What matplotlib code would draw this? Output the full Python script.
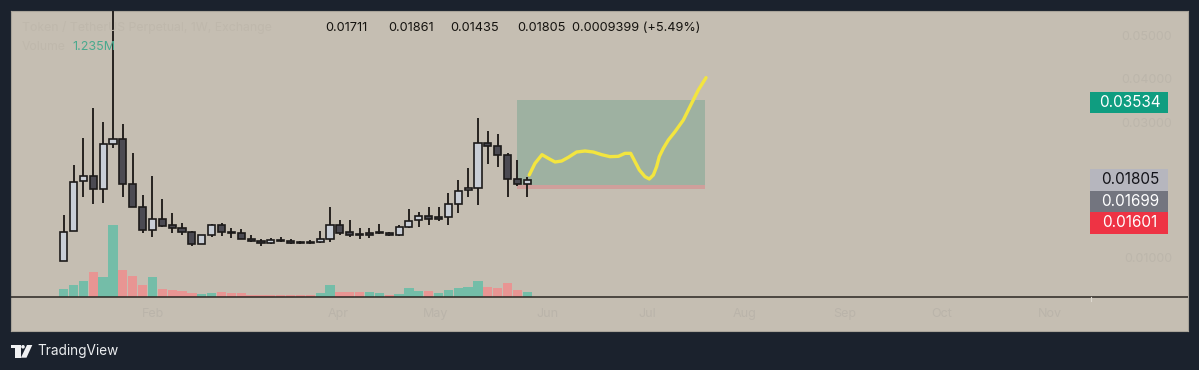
import matplotlib
matplotlib.use("Agg")
import matplotlib.pyplot as plt
from matplotlib.patches import Rectangle, Polygon, Ellipse

plt.rcParams['font.family'] = ['Inter', 'Liberation Sans', 'DejaVu Sans']

# Candles, in units of 1e-5 price
opens = [43,681,1769,1885,1595,2588,2690,1711,1211,703,942,812,747,667,406,594,812,667,638,515,471,420,493,
         464,442,442,442,515,812,660,624,638,660,645,594,776,921,1008,993,986,1269,1573,1617,2595,2538,2342,1827,1711]
highs = [1037,2124,2719,3357,3067,5495,3016,2378,1472,1885,1377,1073,855,689,602,834,870,747,725,602,515,544,551,
         507,478,493,689,1218,928,928,747,761,841,674,819,1167,1109,1218,1218,1523,1798,2052,3154,2871,2798,2378,2226,1861]
lows = [43,681,1421,1276,1290,2487,1421,1211,652,565,768,652,602,370,399,551,587,544,508,457,370,406,442,
        399,413,413,435,442,602,565,508,544,624,580,587,761,783,819,913,827,1073,1435,1247,2146,2088,1435,1668,1435]
closes = [674,1762,1885,1595,2588,2690,1711,1211,703,942,805,747,674,406,594,812,667,645,515,478,420,493,471,
          428,428,420,507,812,652,602,602,609,638,594,768,913,1008,957,950,1269,1566,1617,2595,2545,2342,1827,1711,1805]
volumes = [2.09,3.33,4.47,6.94,5.51,20.33,7.70,5.89,3.42,5.51,2.09,1.90,1.52,1.05,0.86,1.05,1.33,1.05,1.05,0.57,0.57,0.57,0.57,
           0.48,0.38,0.38,0.95,3.33,1.33,1.33,1.24,1.24,0.95,0.57,0.86,2.47,1.52,1.52,1.05,1.81,2.57,2.66,4.37,2.85,2.47,3.90,1.90,1.24]
volume_up = [1,1,1,0,1,1,0,0,0,1,0,0,0,0,1,1,0,0,0,0,0,0,0,
             0,0,0,1,1,0,0,0,1,1,0,1,1,1,0,1,1,1,1,1,0,0,0,0,1]

# Forecast line drawn over the position
path_x = [47.2,47.78,48.49,49.13,49.81,50.48,51.16,52.0,52.85,53.69,54.54,55.38,56.23,56.9,57.48,57.92,58.36,58.93,
          59.37,59.78,60.11,60.38,60.79,61.3,61.97,62.82,63.66,64.34,65.12]
path_y = [1907,2160,2349,2269,2190,2211,2291,2407,2429,2407,2349,2306,2313,2378,2378,2197,2016,1871,
          1820,1907,2088,2306,2487,2668,2849,3103,3466,3756,4024]

# Long position: bars and prices
pos_start, pos_end = 46, 65
target, entry, stop = 3534, 1699, 1601

header_values = ["0.01711", "0.01861", "0.01435", "0.01805", "0.0009399 (+5.49%)"]
header_x = [325, 388, 450, 517, 572]
month_labels = ["Feb", "Apr", "May", "Jun", "Jul", "Aug", "Sep", "Oct", "Nov"]
month_px = [153, 338, 436, 547, 647, 745, 845, 942, 1050]
faint_prices = ["0.05000", "0.04000", "0.03000", "0.01000"]
faint_px = [37, 80, 124, 259]

W, H = 1199, 370
BG, PANEL = "#1b222d", "#c5beb2"
fig = plt.figure(figsize=(W/100, H/100), dpi=100, facecolor=BG)

L, R, T, B = 11, 1188, 11, 331
rect = [L/W, 1-B/H, (R-L)/W, (B-T)/H]
ax = fig.add_axes(rect, facecolor=PANEL, zorder=1)
ax.set_xlim(-5.34, 113.98)
ax.set_ylim(-1486, 5474)
ax.set_xticks([]); ax.set_yticks([])
for s in ax.spines.values():
    s.set_color("#a9a49a"); s.set_linewidth(0.8)

vax = fig.add_axes(rect, facecolor="none", zorder=2)
vax.set_xlim(-5.34, 113.98)
vax.set_ylim(-9.77, 81.4)
vax.axis("off")
xs = list(range(len(volumes)))
vax.bar(xs, volumes, width=0.94,
        color=["#74bda8" if u else "#e89593" for u in volume_up], linewidth=0)
vax.axhline(0, color="#2a2622", lw=1.1, zorder=5)

pax = fig.add_axes(rect, facecolor="none", zorder=3)
pax.set_xlim(-5.34, 113.98)
pax.set_ylim(-1486, 5474)
pax.axis("off")
pax.add_patch(Rectangle((pos_start, entry), pos_end-pos_start, target-entry, fc="#9eb1a1", ec="none", zorder=1))
pax.add_patch(Rectangle((pos_start, stop), pos_end-pos_start, entry-stop, fc="#cf9f9b", ec="none", zorder=1))
for i, (o, h, l, c) in enumerate(zip(opens, highs, lows, closes)):
    up = c >= o
    pax.plot([i, i], [l, h], color="#26221f", lw=1.4, zorder=3, solid_capstyle="butt")
    pax.add_patch(Rectangle((i-0.36, min(o, c)), 0.72, max(abs(c-o), 20),
                            fc="#c9ced6" if up else "#4b4a52", ec="#1d1b1a", lw=1.2, zorder=4))
pax.plot(path_x, path_y, color="#f3e53f", lw=2.4, solid_joinstyle="round", solid_capstyle="round", zorder=6)

def ft(x, y, s, **kw):
    return fig.text(x/W, 1-y/H, s, va="center", zorder=10, **kw)

for x, s in zip(header_x, header_values):
    ft(x, 28, s, color="#15130f", fontsize=9.2)
ft(72, 47, "1.235M", color="#4aa98e", fontsize=9)
ft(22, 28, "Token / TetherUS Perpetual, 1W, Exchange", color="#bfb8ac", fontsize=8.8)
ft(22, 47, "Volume", color="#bfb8ac", fontsize=8.8)
for x, s in zip(month_px, month_labels):
    ft(x, 314, s, color="#bab4aa", fontsize=9, ha="center")
for y, s in zip(faint_px, faint_prices):
    ft(1172, y, s, color="#bcb6ab", fontsize=9, ha="right")

tags = [("0.03534", 91.7, 113, "#0f9d80", "white"),
        ("0.01805", 169, 191, "#b6b6be", "#14141a"),
        ("0.01699", 191, 212, "#73757f", "white"),
        ("0.01601", 212, 234, "#ee3344", "white")]
for s, y0, y1, fc, tc in tags:
    fig.patches.append(Rectangle((1090/W, 1-y1/H), 78/W, (y1-y0)/H, transform=fig.transFigure, fc=fc, ec="none", zorder=8))
    ft(1130, (y0+y1)/2, s, color=tc, fontsize=11, ha="center")

# Logo
def poly(pts):
    fig.patches.append(Polygon([(x/W, 1-y/H) for x, y in pts], closed=True, transform=fig.transFigure,
                               fc="#f0f1f3", ec="none", zorder=8))
poly([(11, 345), (20.7, 345), (20.7, 357.7), (14.7, 357.7), (14.7, 348.3), (11, 348.3)])
poly([(27, 345), (32.3, 345), (26.5, 357.7), (20.9, 357.7)])
fig.patches.append(Ellipse((23/W, 1-346.8/H), 3.6/W, 3.6/H, transform=fig.transFigure, fc="#f0f1f3", ec="none", zorder=8))
ft(37, 351, "TradingView", color="#eceef0", fontsize=9.8)

# Small scale corner mark on the baseline
fig.add_artist(plt.Line2D([1090.5/W, 1090.5/W], [1-297/H, 1-301/H], color="#ddd8cf", lw=0.8, zorder=9))

fig.savefig("out.png", dpi=100, facecolor=BG)
